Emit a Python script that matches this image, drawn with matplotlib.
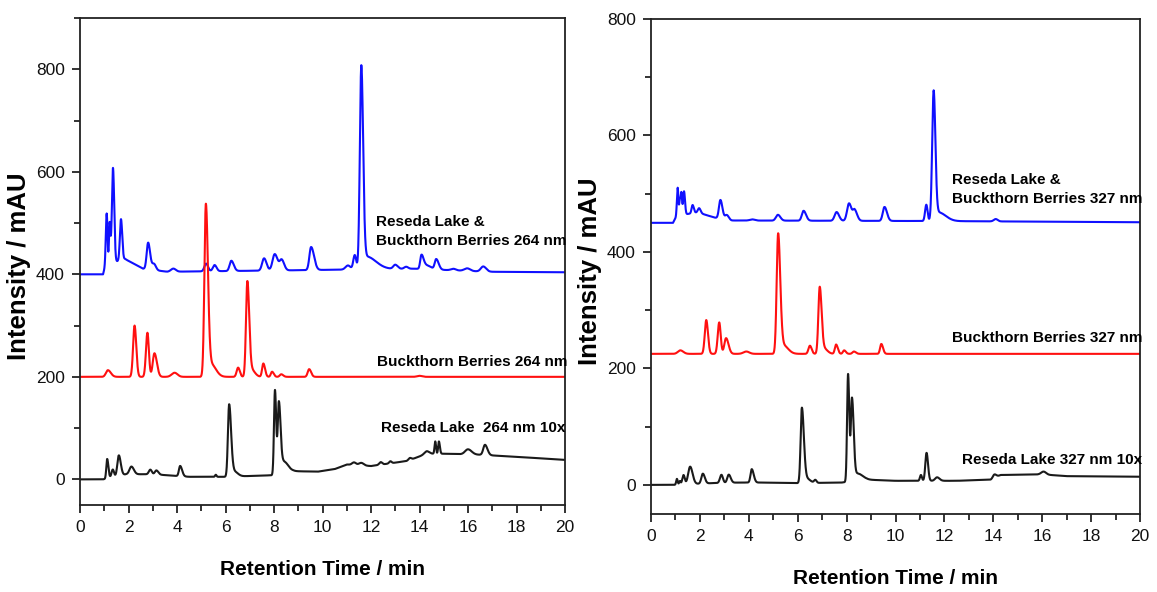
import numpy as np
import matplotlib
matplotlib.use("Agg")
import matplotlib.pyplot as plt
from matplotlib.ticker import MultipleLocator

plt.rcParams['font.family'] = ['Liberation Sans', 'DejaVu Sans']

# ---------------- data: peak tables (retention time, height, left width, right width) ----------------
# Left panel, 264 nm
blue264_peaks = [(1.10, 100, 0.035, 0.035), (1.22, 80, 0.025, 0.035), (1.36, 185, 0.045, 0.05),
                 (1.69, 80, 0.045, 0.05), (2.81, 52, 0.06, 0.08), (3.05, 12, 0.08, 0.08),
                 (3.85, 6, 0.1, 0.1), (5.20, 15, 0.07, 0.08), (5.55, 12, 0.07, 0.08),
                 (6.24, 20, 0.07, 0.1), (7.59, 24, 0.08, 0.1), (8.03, 32, 0.09, 0.12),
                 (8.32, 20, 0.08, 0.1), (9.53, 45, 0.07, 0.12), (11.05, 8, 0.1, 0.1),
                 (11.33, 28, 0.06, 0.06), (11.60, 395, 0.06, 0.075), (11.80, 25, 0.1, 0.4),
                 (13.00, 8, 0.08, 0.1), (13.45, 4, 0.08, 0.08), (14.08, 26, 0.05, 0.08),
                 (14.25, 8, 0.1, 0.2), (14.69, 20, 0.06, 0.1), (15.40, 3, 0.1, 0.1),
                 (15.97, 5, 0.12, 0.12), (16.63, 10, 0.1, 0.12)]
blue264_base_t = [0, 0.95, 1.05, 1.85, 2.6, 3.6, 9.0, 13.8, 16.8, 20]
blue264_base_v = [400, 400, 418, 430, 411, 405, 408, 411, 405, 404]

red264_peaks = [(1.15, 13, 0.08, 0.12), (2.25, 100, 0.06, 0.07), (2.78, 86, 0.06, 0.06),
                (3.07, 46, 0.07, 0.1), (3.90, 8, 0.12, 0.12), (5.19, 335, 0.06, 0.085),
                (5.40, 25, 0.1, 0.2), (6.52, 18, 0.06, 0.07), (6.90, 182, 0.055, 0.075),
                (7.05, 15, 0.1, 0.15), (7.56, 26, 0.05, 0.07), (7.92, 10, 0.05, 0.07),
                (8.30, 5, 0.06, 0.08), (9.45, 15, 0.06, 0.08), (14.0, 2, 0.1, 0.1)]
red264_base_t = [0, 20]
red264_base_v = [200, 200]

black264_peaks = [(1.12, 38, 0.035, 0.05), (1.35, 15, 0.05, 0.05), (1.60, 40, 0.06, 0.08),
                  (2.12, 15, 0.08, 0.1), (2.90, 9, 0.06, 0.06), (3.15, 8, 0.06, 0.08),
                  (4.13, 20, 0.05, 0.08), (5.60, 4, 0.03, 0.03), (6.15, 140, 0.05, 0.08),
                  (6.35, 10, 0.1, 0.15), (8.04, 165, 0.04, 0.05), (8.20, 138, 0.045, 0.07),
                  (8.40, 22, 0.1, 0.18), (11.30, 5, 0.08, 0.08), (11.60, 5, 0.1, 0.1),
                  (12.40, 5, 0.06, 0.06), (12.80, 4, 0.05, 0.05), (13.60, 4, 0.06, 0.06),
                  (14.30, 5, 0.1, 0.1), (14.65, 24, 0.03, 0.03), (14.80, 24, 0.03, 0.04),
                  (16.00, 10, 0.12, 0.15), (16.70, 20, 0.07, 0.1)]
black264_base_t = [0, 0.95, 1.9, 3.0, 4.5, 6.0, 7.9, 8.8, 9.8, 10.5, 11.0, 12.0, 13.5, 14.3, 15.0, 16.5, 18.0, 20]
black264_base_v = [0, 0, 10, 10, 5, 5, 8, 16, 15, 20, 29, 26, 36, 50, 50, 48, 44, 38]

# Right panel, 327 nm
blue327_peaks = [(1.09, 48, 0.03, 0.03), (1.18, 26, 0.025, 0.025), (1.24, 38, 0.025, 0.03),
                 (1.35, 40, 0.035, 0.04), (1.70, 14, 0.04, 0.05), (1.97, 8, 0.05, 0.06),
                 (2.84, 32, 0.06, 0.08), (3.10, 8, 0.07, 0.08), (4.14, 2, 0.1, 0.1),
                 (5.19, 10, 0.08, 0.1), (6.24, 17, 0.07, 0.1), (7.59, 15, 0.08, 0.1),
                 (8.10, 30, 0.08, 0.1), (8.33, 18, 0.07, 0.1), (9.55, 24, 0.07, 0.1),
                 (11.26, 28, 0.05, 0.05), (11.56, 222, 0.06, 0.07), (11.75, 15, 0.1, 0.3),
                 (14.10, 4, 0.08, 0.08)]
blue327_base_t = [0, 0.9, 1.05, 1.9, 2.6, 3.3, 12.0, 20]
blue327_base_v = [450, 450, 462, 468, 459, 454, 453, 451]

red327_peaks = [(1.20, 6, 0.1, 0.12), (2.26, 58, 0.06, 0.07), (2.79, 54, 0.06, 0.06),
                (3.07, 27, 0.07, 0.1), (3.90, 4, 0.12, 0.12), (5.20, 205, 0.06, 0.085),
                (5.40, 15, 0.1, 0.2), (6.50, 14, 0.06, 0.07), (6.90, 112, 0.055, 0.075),
                (7.05, 10, 0.1, 0.15), (7.57, 16, 0.05, 0.07), (7.90, 6, 0.05, 0.07),
                (8.30, 4, 0.06, 0.08), (9.42, 17, 0.05, 0.07)]
red327_base_t = [0, 20]
red327_base_v = [225, 225]

black327_peaks = [(1.06, 10, 0.03, 0.03), (1.18, 6, 0.03, 0.03), (1.33, 16, 0.05, 0.05),
                  (1.60, 30, 0.08, 0.1), (2.12, 17, 0.06, 0.08), (2.88, 14, 0.06, 0.06),
                  (3.18, 14, 0.06, 0.08), (4.12, 23, 0.05, 0.08), (6.17, 128, 0.05, 0.08),
                  (6.35, 8, 0.1, 0.15), (6.72, 5, 0.05, 0.05), (8.06, 185, 0.04, 0.05),
                  (8.22, 142, 0.045, 0.07), (8.45, 12, 0.1, 0.2), (11.04, 10, 0.04, 0.04),
                  (11.27, 48, 0.05, 0.06), (11.70, 6, 0.08, 0.1), (14.04, 6, 0.06, 0.08),
                  (16.06, 5, 0.1, 0.1)]
black327_base_t = [0, 0.9, 2.5, 3.6, 4.5, 6.0, 7.8, 8.8, 10.0, 11.0, 12.5, 13.9, 14.3, 16.0, 17.0, 20]
black327_base_v = [0, 0, 3, 4, 4, 3, 4, 9, 7, 7, 7, 9, 17, 18, 15, 14]

# labels
left_labels = ["Reseda Lake &\nBuckthorn Berries 264 nm", "Buckthorn Berries 264 nm", "Reseda Lake  264 nm 10x"]
right_labels = ["Reseda Lake &\nBuckthorn Berries 327 nm", "Buckthorn Berries 327 nm", "Reseda Lake 327 nm 10x"]
x_label = "Retention Time / min"
y_label = "Intensity / mAU"

# ---------------- build ----------------
t = np.linspace(0, 20, 4001)


def trace(peaks, bt, bv):
    y = np.interp(t, bt, bv).astype(float)
    for tc, h, sl, sr in peaks:
        s = np.where(t < tc, sl, sr)
        y = y + h * np.exp(-0.5 * ((t - tc) / s) ** 2)
    return y


fig = plt.figure(figsize=(11.57, 5.92), dpi=100)
axL = fig.add_axes([80 / 1157, 87 / 592, 485 / 1157, 487 / 592])
axR = fig.add_axes([651 / 1157, 78 / 592, 489 / 1157, 495 / 592])

blue_c = '#1010ff'
red_c = '#ff1010'
black_c = '#1a1a1a'
lw = 1.5
ann_fs = 11

panels = [
    (axL, (blue264_peaks, blue264_base_t, blue264_base_v), (red264_peaks, red264_base_t, red264_base_v),
     (black264_peaks, black264_base_t, black264_base_v), (-50, 900), left_labels,
     [(12.2, 515), (12.25, 228), (12.4, 101)]),
    (axR, (blue327_peaks, blue327_base_t, blue327_base_v), (red327_peaks, red327_base_t, red327_base_v),
     (black327_peaks, black327_base_t, black327_base_v), (-50, 800), right_labels,
     [(12.3, 535), (12.3, 253), (12.7, 42)]),
]

for ax, b, r, k, ylim, labels, pos in panels:
    ax.plot(t, trace(*b), color=blue_c, lw=lw)
    ax.plot(t, trace(*r), color=red_c, lw=lw)
    ax.plot(t, trace(*k), color=black_c, lw=lw)
    ax.set_xlim(0, 20)
    ax.set_ylim(*ylim)
    ax.xaxis.set_major_locator(MultipleLocator(2))
    ax.xaxis.set_minor_locator(MultipleLocator(1))
    ax.yaxis.set_major_locator(MultipleLocator(200))
    ax.yaxis.set_minor_locator(MultipleLocator(100))
    ax.tick_params(which='both', direction='out', top=False, right=False, width=1.2, labelsize=12.5,
                   colors='#111111', pad=5)
    ax.tick_params(which='major', length=6)
    ax.tick_params(which='minor', length=4)
    for sp in ax.spines.values():
        sp.set_linewidth(1.3)
        sp.set_color('#222222')
    ax.set_xlabel(x_label, fontsize=15, fontweight='bold', labelpad=18)
    ax.set_ylabel(y_label, fontsize=18.5, fontweight='bold')
    ax.yaxis.set_label_coords(-0.10, 0.49)
    ax.text(pos[0][0], pos[0][1], labels[0], fontsize=ann_fs, fontweight='bold', va='top', ha='left',
            linespacing=1.45)
    ax.text(pos[1][0], pos[1][1], labels[1], fontsize=ann_fs, fontweight='bold', va='center', ha='left')
    ax.text(pos[2][0], pos[2][1], labels[2], fontsize=ann_fs, fontweight='bold', va='center', ha='left')

fig.savefig("out.png", dpi=100)
